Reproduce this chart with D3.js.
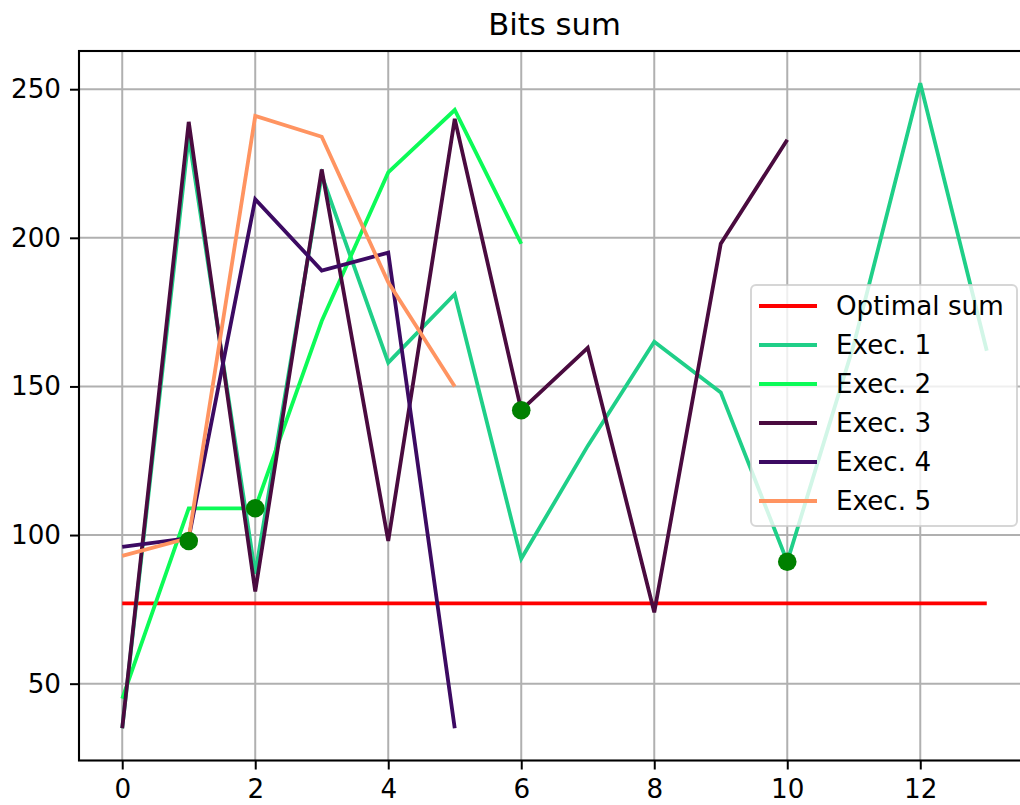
<!DOCTYPE html>
<html>
<head>
<meta charset="utf-8">
<script src="https://cdn.jsdelivr.net/npm/d3@7"></script>
<style>
  body { margin: 0; background: white; overflow: hidden; }
  svg { display: block; font-family: "DejaVu Sans", sans-serif; }
</style>
</head>
<body>
<div class="wrapper"></div>
<script>
// values, x = index
const exec1 = [35, 234, 87, 221, 158, 181, 92, 130, 165, 148, 91, 164, 252, 162];
const exec2 = [45, 109, 109, 172, 222, 243, 198];
const exec3 = [35, 239, 81, 223, 98, 240, 142, 163, 74, 198, 233];
const exec4 = [96, 99, 213, 189, 195, 35];
const exec5 = [93, 99, 241, 234, 185, 150];
const optimalSum = 77;
const optimalX = [0, 13];
const bestX = [1, 2, 6, 10];
const bestY = [98, 109, 142, 91];
const xTicks = [0, 2, 4, 6, 8, 10, 12];
const yTicks = [50, 100, 150, 200, 250];

const series = [
  { name: "Exec. 1", values: exec1, color: "#1fcf88" },
  { name: "Exec. 2", values: exec2, color: "#0cfb57" },
  { name: "Exec. 3", values: exec3, color: "#4a0b3f" },
  { name: "Exec. 4", values: exec4, color: "#3c0a62" },
  { name: "Exec. 5", values: exec5, color: "#ff9461" }
];

const width = 1020, height = 805;
// axes run a bit past the right edge of the picture (cropped figure)
const plotL = 79, plotR = 1030, plotT = 51, plotB = 760.5;
const fs = 26.2;

const svg = d3.select(".wrapper")
  .append("svg")
  .attr("width", width)
  .attr("height", height);

const x = d3.scaleLinear().domain([-0.65, 13.65]).range([plotL, plotR]);
const y = d3.scaleLinear().domain([24.15, 262.85]).range([plotB, plotT]);

// clip
svg.append("clipPath").attr("id", "plot")
  .append("rect")
  .attr("x", plotL).attr("y", plotT)
  .attr("width", plotR - plotL).attr("height", plotB - plotT);

// grid
const grid = svg.append("g");
grid.selectAll("line.vx")
  .data(xTicks)
  .enter()
  .append("line")
  .attr("x1", d => x(d)).attr("x2", d => x(d))
  .attr("y1", plotT).attr("y2", plotB)
  .attr("stroke", "#b0b0b0")
  .attr("stroke-width", 2);
grid.selectAll("line.hy")
  .data(yTicks)
  .enter()
  .append("line")
  .attr("y1", d => y(d)).attr("y2", d => y(d))
  .attr("x1", plotL).attr("x2", plotR)
  .attr("stroke", "#b0b0b0")
  .attr("stroke-width", 2);

const plot = svg.append("g").attr("clip-path", "url(#plot)");

const line = d3.line()
  .x((d, i) => x(i))
  .y(d => y(d));

// optimal sum
plot.append("line")
  .attr("x1", x(optimalX[0])).attr("x2", x(optimalX[1]))
  .attr("y1", y(optimalSum)).attr("y2", y(optimalSum))
  .attr("stroke", "#ff0000")
  .attr("stroke-width", 3.8);

series.forEach(s => {
  plot.append("path")
    .datum(s.values)
    .attr("d", line)
    .attr("fill", "none")
    .attr("stroke", s.color)
    .attr("stroke-width", 3.8)
    .attr("stroke-linejoin", "miter")
    .attr("stroke-linecap", "butt");
});

plot.selectAll("circle")
  .data(bestX)
  .enter()
  .append("circle")
  .attr("cx", d => x(d))
  .attr("cy", (d, i) => y(bestY[i]))
  .attr("r", 9.3)
  .attr("fill", "#008000");

// axes
const xAxis = svg.append("g")
  .attr("transform", "translate(0," + plotB + ")")
  .call(d3.axisBottom(x).tickValues(xTicks).tickSize(9).tickPadding(9));
const yAxis = svg.append("g")
  .attr("transform", "translate(" + plotL + ",0)")
  .call(d3.axisLeft(y).tickValues(yTicks).tickSize(9).tickPadding(9));

[xAxis, yAxis].forEach(a => {
  a.select(".domain").remove();
  a.selectAll(".tick line").attr("stroke", "#000").attr("stroke-width", 2);
  a.selectAll(".tick text")
    .attr("fill", "#000")
    .style("font-size", fs + "px")
    .style("font-family", "DejaVu Sans");
});
xAxis.selectAll(".tick text").attr("dy", "0.74em");

// spines
svg.append("rect")
  .attr("x", plotL).attr("y", plotT)
  .attr("width", plotR - plotL).attr("height", plotB - plotT)
  .attr("fill", "none")
  .attr("stroke", "#000")
  .attr("stroke-width", 2.1);

// title
svg.append("text")
  .attr("x", (plotL + plotR) / 2)
  .attr("y", 35)
  .attr("text-anchor", "middle")
  .style("font-size", "30.7px")
  .text("Bits sum");

// legend
const legendItems = [{ name: "Optimal sum", color: "#ff0000" }].concat(series);
const legend = svg.append("g");
legend.append("rect")
  .attr("x", 751).attr("y", 285)
  .attr("width", 266).attr("height", 241)
  .attr("rx", 5)
  .attr("fill", "white")
  .attr("fill-opacity", 0.8)
  .attr("stroke", "#cccccc")
  .attr("stroke-opacity", 0.8)
  .attr("stroke-width", 2);

legend.selectAll("line.key")
  .data(legendItems)
  .enter()
  .append("line")
  .attr("x1", 759).attr("x2", 817)
  .attr("y1", (d, i) => 306 + i * 39)
  .attr("y2", (d, i) => 306 + i * 39)
  .attr("stroke", d => d.color)
  .attr("stroke-width", 3.8);

legend.selectAll("text")
  .data(legendItems)
  .enter()
  .append("text")
  .attr("x", 836)
  .attr("y", (d, i) => 306 + i * 39)
  .attr("dy", "0.36em")
  .style("font-size", fs + "px")
  .text(d => d.name);
</script>
</body>
</html>
